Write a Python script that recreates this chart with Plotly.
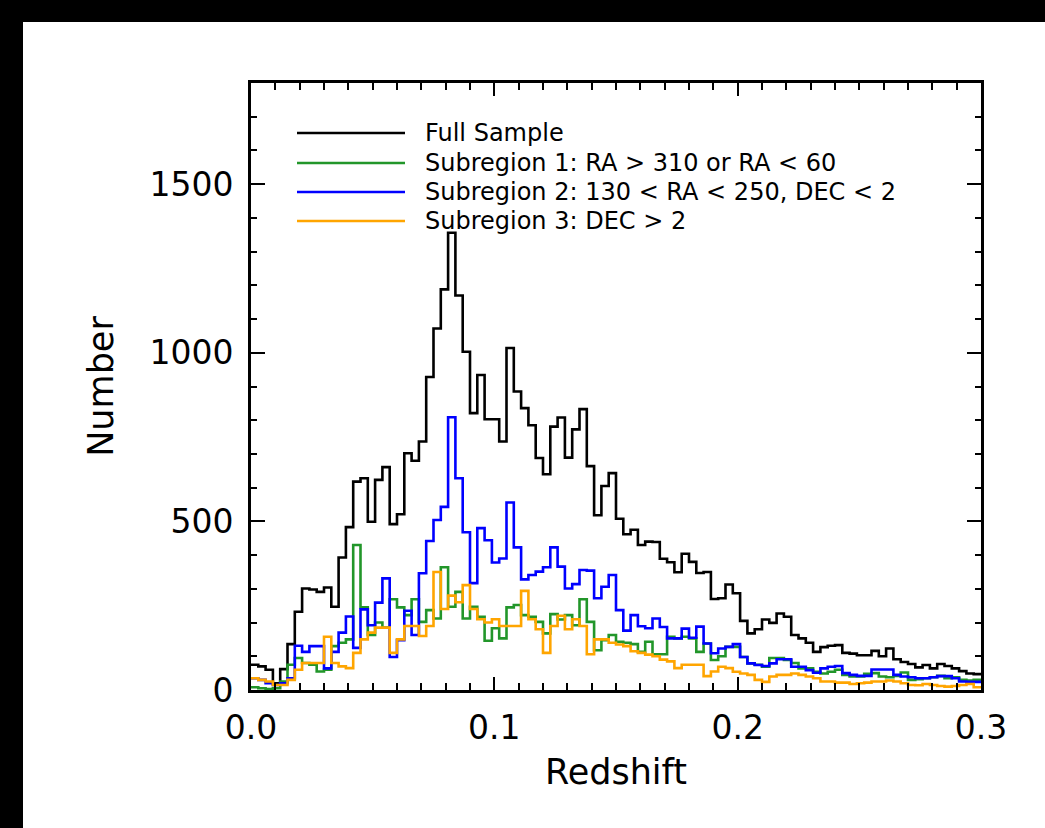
import numpy as np
import plotly.graph_objects as go

bin_width = 0.003
n_bins = 100

full_sample = [75, 70, 60, 20, 62, 136, 232, 301, 298, 291, 304, 247, 393, 483, 618, 628, 499, 623, 661, 492,
               521, 702, 680, 737, 928, 1072, 1188, 1356, 1170, 1003, 821, 934, 803, 803, 737, 1014, 885, 836, 785, 688,
               640, 781, 808, 689, 773, 833, 664, 518, 605, 643, 508, 462, 475, 430, 440, 439, 389, 379, 349, 404,
               380, 347, 350, 270, 272, 313, 287, 205, 168, 180, 209, 199, 227, 217, 163, 153, 140, 113, 127, 131,
               133, 110, 108, 103, 103, 116, 100, 123, 91, 83, 77, 67, 74, 64, 77, 71, 64, 56, 49, 47]

sub1 = [8, 5, 3, 5, 25, 75, 95, 80, 75, 55, 60, 130, 140, 150, 430, 245, 163, 200, 185, 269,
        245, 222, 269, 202, 237, 212, 364, 247, 291, 212, 247, 217, 146, 183, 153, 245, 252, 222, 217, 202,
        168, 225, 209, 222, 192, 269, 202, 118, 148, 163, 143, 140, 136, 113, 143, 106, 106, 158, 153, 158,
        153, 113, 138, 89, 100, 128, 128, 98, 79, 75, 69, 95, 95, 89, 80, 64, 64, 54, 49, 54,
        60, 45, 40, 40, 48, 50, 40, 38, 42, 52, 30, 32, 35, 38, 42, 35, 38, 30, 28, 30]

sub2 = [35, 30, 20, 15, 20, 35, 131, 113, 130, 130, 64, 113, 170, 218, 125, 239, 192, 259, 331, 98,
        148, 235, 163, 346, 442, 504, 543, 809, 628, 468, 317, 480, 444, 378, 390, 556, 423, 328, 341, 351,
        364, 423, 366, 301, 314, 356, 354, 272, 306, 341, 237, 176, 222, 189, 183, 212, 187, 153, 153, 182,
        155, 188, 138, 109, 123, 128, 136, 98, 79, 74, 71, 79, 91, 91, 69, 69, 59, 51, 64, 69,
        71, 50, 45, 42, 42, 61, 61, 61, 45, 40, 38, 35, 35, 38, 41, 41, 35, 25, 24, 24]

sub3 = [35, 30, 25, 15, 15, 30, 60, 80, 80, 80, 158, 80, 70, 65, 110, 150, 170, 185, 185, 110,
        150, 190, 190, 160, 190, 350, 240, 280, 260, 311, 240, 210, 200, 210, 190, 190, 190, 294, 210, 180,
        110, 190, 220, 180, 210, 190, 106, 150, 150, 140, 135, 130, 115, 110, 105, 100, 90, 85, 65, 75,
        75, 75, 41, 55, 69, 65, 54, 49, 45, 30, 24, 40, 45, 45, 49, 45, 40, 35, 25, 25,
        22, 22, 18, 20, 22, 25, 25, 28, 25, 20, 15, 14, 18, 15, 12, 10, 12, 15, 18, 8]

series_names = ["Full Sample",
                "Subregion 1: RA > 310 or RA < 60",
                "Subregion 2: 130 < RA < 250, DEC < 2",
                "Subregion 3: DEC > 2"]
series_colors = ["#000000", "#22962a", "#0000ff", "#ffa500"]
series_values = [full_sample, sub1, sub2, sub3]

x_tick_vals = [0.0, 0.1, 0.2, 0.3]
x_tick_text = ["0.0", "0.1", "0.2", "0.3"]
y_tick_vals = [0, 500, 1000, 1500]
y_tick_text = ["0", "500", "1000", "1500"]

edges = np.arange(n_bins + 1) * bin_width

fig = go.Figure()
for name, col, vals in zip(series_names, series_colors, series_values):
    yy = list(vals) + [vals[-1]]
    fig.add_trace(go.Scatter(x=edges, y=yy, mode="lines", line=dict(color=col, width=2.6, shape="hv"),
                             name=name, showlegend=False))

FONT = "DejaVu Sans"
L, R, T, B = 251, 64, 83, 138
W, H = 1045, 828
pw, ph = W - L - R, H - T - B


def px_x(px):
    return (px - L) / pw


def px_y(py):
    return (H - B - py) / ph


shapes = [dict(type="rect", xref="paper", yref="paper", x0=px_x(23), x1=px_x(W + 5), y0=px_y(H + 5), y1=px_y(22),
               fillcolor="white", line=dict(width=0), layer="below")]
annotations = []
legend_rows = [133, 163, 192, 221]
for name, col, ry in zip(series_names, series_colors, legend_rows):
    shapes.append(dict(type="line", xref="paper", yref="paper", x0=px_x(297), x1=px_x(405), y0=px_y(ry), y1=px_y(ry),
                       line=dict(color=col, width=2.6)))
    annotations.append(dict(text=name, xref="paper", yref="paper", x=px_x(423), y=px_y(ry), xanchor="left",
                            yanchor="middle", showarrow=False, font=dict(family=FONT, size=24, color="black")))

axis_common = dict(showline=True, linewidth=2.8, linecolor="black", mirror="allticks", ticks="inside",
                   tickcolor="black", tickwidth=2.2, showgrid=False, zeroline=False,
                   tickfont=dict(family=FONT, size=33, color="black"))

fig.update_layout(
    width=W, height=H,
    margin=dict(l=L, r=R, t=T, b=B),
    paper_bgcolor="black", plot_bgcolor="white",
    shapes=shapes, annotations=annotations,
    xaxis=dict(range=[0, 0.3], tickvals=x_tick_vals, ticktext=x_tick_text, ticklen=13,
               minor=dict(ticks="inside", ticklen=7, dtick=0.01, tickcolor="black", tickwidth=2.2),
               ticklabelstandoff=6,
               title=dict(text="Redshift", font=dict(family=FONT, size=35, color="black"), standoff=14),
               **axis_common),
    yaxis=dict(range=[0, 1800], tickvals=y_tick_vals, ticktext=y_tick_text, ticklen=14,
               minor=dict(ticks="inside", ticklen=6, dtick=100, tickcolor="black", tickwidth=2.2),
               ticklabelstandoff=8,
               title=dict(text="Number", font=dict(family=FONT, size=35, color="black"), standoff=26),
               **axis_common),
)

fig.write_html("out.html")
